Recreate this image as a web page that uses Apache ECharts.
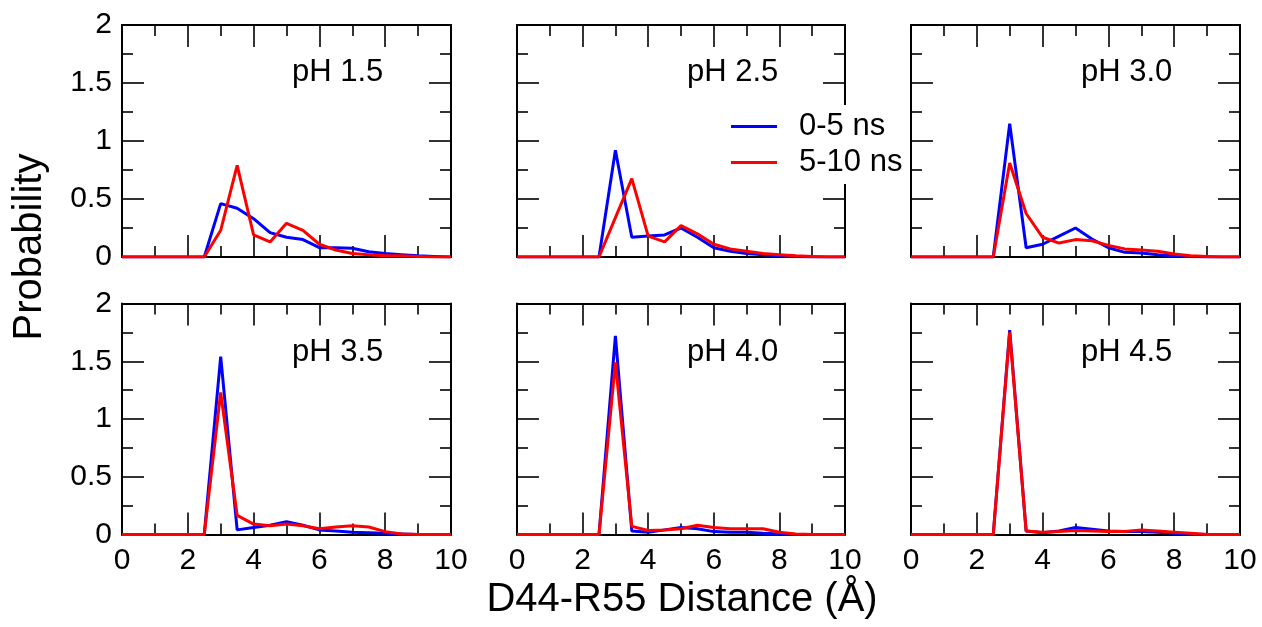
<!DOCTYPE html>
<html>
<head>
<meta charset="utf-8">
<script src="https://cdn.jsdelivr.net/npm/echarts@6/dist/echarts.min.js"></script>
<style>
html,body{margin:0;padding:0;background:#fff;}
#chart{width:1262px;height:627px;}
</style>
</head>
<body>
<div id="chart"></div>
<script>
// Distance (Å) sample points
const distance = [0,0.5,1,1.5,2,2.5,3,3.5,4,4.5,5,5.5,6,6.5,7,7.5,8,8.5,9,9.5,10];
const xTicks = [0,2,4,6,8,10];
const yTicks = [0,0.5,1,1.5,2];
const seriesNames = ['0-5 ns','5-10 ns'];
const panelLabels = ['pH 1.5','pH 2.5','pH 3.0','pH 3.5','pH 4.0','pH 4.5'];

const pH15_0_5  = [0,0,0,0,0,0,0.46,0.42,0.33,0.21,0.17,0.15,0.08,0.08,0.075,0.045,0.03,0.02,0.01,0.005,0];
const pH15_5_10 = [0,0,0,0,0,0,0.23,0.79,0.19,0.13,0.29,0.23,0.11,0.06,0.03,0.02,0.01,0.01,0.005,0,0];
const pH25_0_5  = [0,0,0,0,0,0,0.92,0.17,0.18,0.19,0.25,0.17,0.08,0.05,0.03,0.02,0.01,0.005,0,0,0];
const pH25_5_10 = [0,0,0,0,0,0,0.34,0.675,0.18,0.13,0.27,0.2,0.11,0.07,0.05,0.03,0.02,0.01,0.005,0,0];
const pH30_0_5  = [0,0,0,0,0,0,1.15,0.08,0.11,0.18,0.25,0.155,0.08,0.04,0.035,0.02,0.01,0.005,0,0,0];
const pH30_5_10 = [0,0,0,0,0,0,0.81,0.375,0.17,0.12,0.15,0.14,0.1,0.07,0.06,0.05,0.025,0.01,0.005,0,0];
const pH35_0_5  = [0,0,0,0,0,0,1.54,0.04,0.06,0.08,0.11,0.08,0.04,0.03,0.02,0.015,0.01,0.005,0,0,0];
const pH35_5_10 = [0,0,0,0,0,0,1.23,0.165,0.09,0.075,0.09,0.075,0.05,0.065,0.075,0.065,0.025,0.005,0,0,0];
const pH40_0_5  = [0,0,0,0,0,0,1.72,0.03,0.02,0.04,0.06,0.05,0.025,0.02,0.02,0.01,0.005,0,0,0,0];
const pH40_5_10 = [0,0,0,0,0,0,1.49,0.07,0.035,0.04,0.05,0.08,0.06,0.05,0.05,0.05,0.02,0.005,0,0,0];
const pH45_0_5  = [0,0,0,0,0,0,1.77,0.03,0.015,0.03,0.06,0.045,0.03,0.025,0.025,0.02,0.01,0.005,0,0,0];
const pH45_5_10 = [0,0,0,0,0,0,1.75,0.03,0.02,0.025,0.035,0.03,0.025,0.025,0.04,0.03,0.02,0.01,0,0,0];

const early = [pH15_0_5,pH25_0_5,pH30_0_5,pH35_0_5,pH40_0_5,pH45_0_5];
const late  = [pH15_5_10,pH25_5_10,pH30_5_10,pH35_5_10,pH40_5_10,pH45_5_10];

const FONT = '"Liberation Sans", Arial, Helvetica, sans-serif';
const colLeft = [122, 517, 911];
const colWidth = [329, 328, 329];
const rowTop = [25, 303.5];
const rowHeight = [232, 231];
const labelTop = [57, 337];

const grids = [], xAxes = [], yAxes = [], series = [], titles = [];
const axisLine = {show:true, onZero:false, lineStyle:{color:'#000', width:2}};
const tick = {show:true, inside:true, length:22, lineStyle:{color:'#000', width:1.6}};
const minor = {show:true, splitNumber:2, length:11, lineStyle:{color:'#000', width:1.6}};

for (let i = 0; i < 6; i++) {
  const row = Math.floor(i/3), col = i % 3;
  grids.push({left:colLeft[col], top:rowTop[row], width:colWidth[col], height:rowHeight[row], containLabel:false});
  const xBase = {type:'value', gridIndex:i, min:xTicks[0], max:xTicks[xTicks.length-1], interval:xTicks[1]-xTicks[0],
    axisLine:axisLine, axisTick:tick, minorTick:minor, splitLine:{show:false}};
  xAxes.push(Object.assign({}, xBase, {position:'bottom',
    axisLabel:{show:row===1, fontSize:30, color:'#000', fontFamily:FONT, margin:11}}));
  xAxes.push(Object.assign({}, xBase, {position:'top', axisLabel:{show:false}}));
  const yBase = {type:'value', gridIndex:i, min:yTicks[0], max:yTicks[yTicks.length-1], interval:yTicks[1]-yTicks[0],
    axisLine:axisLine, axisTick:tick, minorTick:minor, splitLine:{show:false}};
  yAxes.push(Object.assign({}, yBase, {position:'left',
    axisLabel:{show:col===0, fontSize:30, color:'#000', fontFamily:FONT, margin:10}}));
  yAxes.push(Object.assign({}, yBase, {position:'right', axisLabel:{show:false}}));

  series.push({type:'line', name:seriesNames[0], xAxisIndex:2*i, yAxisIndex:2*i, symbol:'none', showSymbol:false,
    data:distance.map((d,k)=>[d, early[i][k]]), color:'#0000ff',
    lineStyle:{color:'#0000ff', width:3}, z:2, animation:false});
  series.push({type:'line', name:seriesNames[1], xAxisIndex:2*i, yAxisIndex:2*i, symbol:'none', showSymbol:false,
    data:distance.map((d,k)=>[d, late[i][k]]), color:'#ff0000',
    lineStyle:{color:'#ff0000', width:3}, z:3, animation:false});

  titles.push({text:panelLabels[i], left:colLeft[col]+170, top:labelTop[row], padding:0,
    textStyle:{fontSize:31, fontWeight:'normal', color:'#000', fontFamily:FONT}});
}

const chart = echarts.init(document.getElementById('chart'), null, {renderer:'canvas'});
chart.setOption({
  backgroundColor:'#fff',
  animation:false,
  title: titles,
  grid: grids,
  xAxis: xAxes,
  yAxis: yAxes,
  series: series,
  legend: {
    data: [
      {name:seriesNames[0], icon:'rect', itemStyle:{color:'#0000ff'}},
      {name:seriesNames[1], icon:'rect', itemStyle:{color:'#ff0000'}}
    ],
    orient:'vertical',
    left:724, top:105,
    itemWidth:46, itemHeight:3, itemGap:5,
    backgroundColor:'#fff',
    padding:[6,6,6,7],
    textStyle:{fontSize:31, color:'#000', fontFamily:FONT, padding:[0,0,0,17]},
    z:10
  },
  graphic: [
    {type:'text', x:682, y:580, style:{text:'D44-R55 Distance (Å)', font:'40px ' + FONT, fill:'#000', align:'center', verticalAlign:'top'}},
    {type:'text', x:10, y:247, rotation:Math.PI/2, style:{text:'Probability', font:'40px ' + FONT, fill:'#000', align:'center', verticalAlign:'top'}}
  ]
});
</script>
</body>
</html>
